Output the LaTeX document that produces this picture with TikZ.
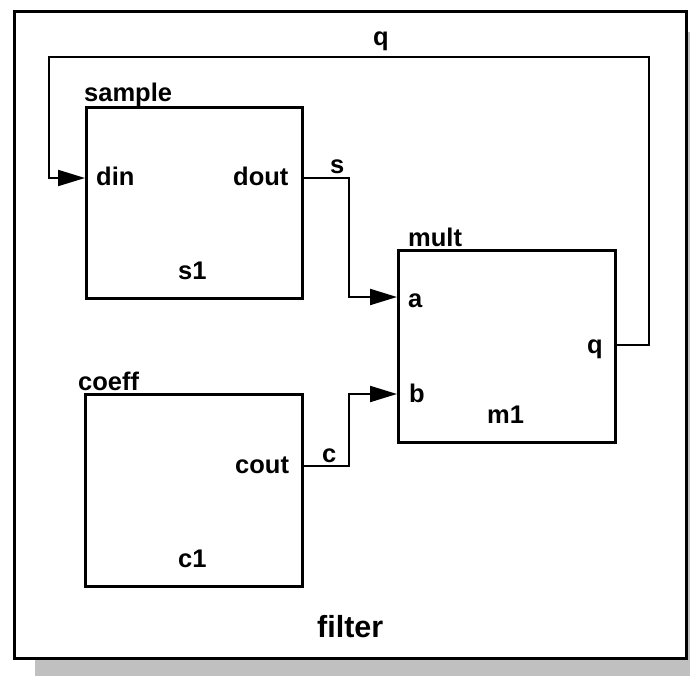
\documentclass[tikz,border=0pt]{standalone}
\usepackage{fontspec}
\setmainfont{Liberation Sans}
\usetikzlibrary{arrows.meta}
\tikzset{
  blk/.style={draw=black, line width=2.6pt, fill=white, rectangle, inner sep=0pt, anchor=north west},
  wire/.style={draw=black, line width=2pt},
  arr/.style={wire, -{Triangle[length=27pt,width=16pt]}},
  lbl/.style={inner sep=0pt, anchor=base west, font=\fontsize{25.5}{30}\selectfont\bfseries},
  big/.style={inner sep=0pt, anchor=base west, font=\fontsize{30.5}{36}\selectfont\bfseries},
}
\begin{document}
\begin{tikzpicture}[x=1pt, y=-1pt]
\useasboundingbox (0,0) rectangle (690,675);
\clip (0,0) rectangle (690,675);
% shadow and outer frame
\fill[fill={rgb,255:red,192;green,192;blue,192}] (35,32) rectangle (707,679);
\node[blk, line width=3.2pt, minimum width=672pt, minimum height=647pt] (filt) at (13,10) {};
% blocks
\node[blk, minimum width=216pt, minimum height=191pt] (sbox) at (85,106) {};
\node[blk, minimum width=217pt, minimum height=192pt] (mbox) at (397,249) {};
\node[blk, minimum width=217pt, minimum height=192pt] (cbox) at (84,393) {};
% ports
\coordinate (din) at (85,178);
\coordinate (dout) at (301,178);
\coordinate (pa) at (397,297);
\coordinate (pb) at (397,394);
\coordinate (pq) at (614,345);
\coordinate (cout) at (301,466);
% wire corners
\coordinate (s1c) at (349,178);
\coordinate (s2c) at (349,297);
\coordinate (c1c) at (349,466);
\coordinate (c2c) at (349,394);
\coordinate (q1c) at (649,345);
\coordinate (q2c) at (649,57);
\coordinate (q3c) at (49,57);
\coordinate (q4c) at (49,178);
% wires
\draw[arr] (dout) -- (s1c) -- (s2c) -- (pa);
\draw[arr] (cout) -- (c1c) -- (c2c) -- (pb);
\draw[arr] (pq) -- (q1c) -- (q2c) -- (q3c) -- (q4c) -- (din);
% labels
\node[lbl] (tsample) at (84,101) {sample};
\node[lbl] (tdin) at (96,185) {din};
\node[lbl] (tdout) at (233,185) {dout};
\node[lbl] (ts1) at (178,279) {s1};
\node[lbl] (ts) at (330,173) {s};
\node[lbl] (tmult) at (408,246) {mult};
\node[lbl] (ta) at (408,307) {a};
\node[lbl] (tb) at (409,402) {b};
\node[lbl] (tm1) at (487,423) {m1};
\node[lbl] (tq) at (587,353) {q};
\node[lbl] (tcoeff) at (78,390) {coeff};
\node[lbl] (tcout) at (235,473) {cout};
\node[lbl] (tc) at (322,462) {c};
\node[lbl] (tc1) at (178,567) {c1};
\node[lbl] (tqtop) at (373,45) {q};
\node[big] (tfilter) at (317,637) {filter};
\end{tikzpicture}
\end{document}
